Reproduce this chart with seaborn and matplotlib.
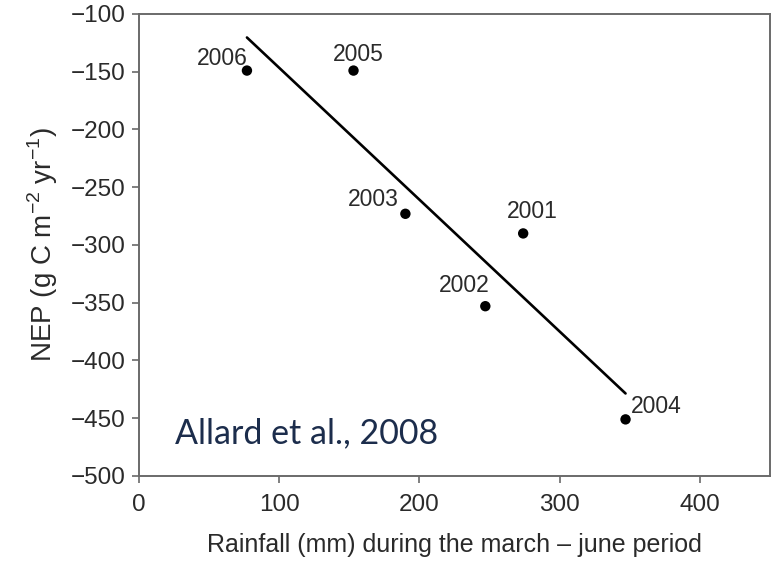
import matplotlib
matplotlib.use("Agg")
import matplotlib.pyplot as plt
import seaborn as sns
import pandas as pd

# Spring rainfall vs. annual net ecosystem production, one point per year
years = ["2006", "2005", "2003", "2001", "2002", "2004"]
rainfall_mm = [77, 153, 190, 274, 247, 347]
nep = [-149, -149, -273, -290, -353, -451]

x_ticks = [0, 100, 200, 300, 400]
y_ticks = [-100, -150, -200, -250, -300, -350, -400, -450, -500]

df = pd.DataFrame({"year": years, "rain": rainfall_mm, "nep": nep})

sns.set_style("ticks")
plt.rcParams["font.family"] = ["Liberation Sans", "DejaVu Sans"]
plt.rcParams["axes.unicode_minus"] = True

spine_col = "#6a6a6a"
text_col = "#2a2a2a"

fig = plt.figure(figsize=(7.79, 5.68), dpi=100)
ax = fig.add_axes([0.1784, 0.162, 0.8100, 0.8134])

sns.regplot(data=df, x="rain", y="nep", ax=ax, ci=None, truncate=True,
            scatter_kws=dict(s=56, color="black", alpha=1, edgecolor="none",
                             zorder=3),
            line_kws=dict(color="black", lw=1.9))

# year labels placed around each point (offsets in pixels)
label_offsets = {
    "2006": (1, 6, "right"),
    "2005": (5, 10, "center"),
    "2003": (-7, 8, "right"),
    "2001": (9, 15, "center"),
    "2002": (4, 14, "right"),
    "2004": (5, 6, "left"),
}
for yr, xv, yv in zip(years, rainfall_mm, nep):
    dx, dy, ha = label_offsets[yr]
    ax.annotate(yr, (xv, yv), xytext=(dx, dy), textcoords="offset pixels",
                ha=ha, va="baseline", fontsize=16.5, color=text_col)

ax.set_xlim(0, 450)
ax.set_ylim(-500, -100)
ax.set_xticks(x_ticks)
ax.set_yticks(y_ticks)

for side in ["top", "right", "bottom", "left"]:
    ax.spines[side].set_color(spine_col)
    ax.spines[side].set_linewidth(1.4)

ax.tick_params(axis="both", colors=spine_col, length=5, width=1.2,
               labelsize=17.5, labelcolor=text_col)
ax.tick_params(axis="x", pad=8)
ax.tick_params(axis="y", pad=4.5)

ax.set_xlabel("Rainfall (mm) during the march \u2013 june period",
              fontsize=18, color=text_col, labelpad=12)
ax.set_ylabel("NEP (g C m$^{\\mathregular{-2}}$ yr$^{\\mathregular{-1}}$)",
              fontsize=20, color=text_col, labelpad=8)

ax.text(0.057, 0.0714, "Allard et al., 2008", transform=ax.transAxes,
        fontsize=24.5, color="#1c2d4c", family=["Lato", "DejaVu Sans"],
        ha="left", va="baseline")

fig.savefig("out.png", dpi=100)
